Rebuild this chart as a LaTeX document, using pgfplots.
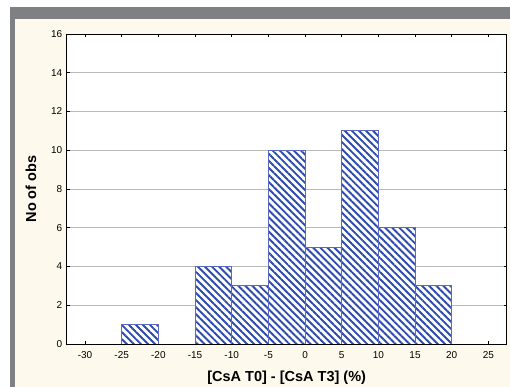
\documentclass[border=0pt]{standalone}
\usepackage{fontspec}
\setmainfont{Liberation Sans}
\usepackage{pgfplots}
\pgfplotsset{compat=1.18}
\usetikzlibrary{patterns.meta}
\definecolor{framegray}{RGB}{127,128,131}
\definecolor{cream}{RGB}{253,249,237}
\definecolor{hatch}{RGB}{45,75,175}
\definecolor{baredge}{RGB}{90,105,195}
\begin{document}
\begin{tikzpicture}[x=1pt,y=1pt]
\path[use as bounding box] (0,0) rectangle (510,387);
\fill[white] (0,0) rectangle (510,387);
\fill[framegray] (10,0) rectangle (510,380);
\fill[cream] (15,0) rectangle (510,368);
\begin{axis}[
 at={(66.7pt,43pt)}, anchor=south west,
 scale only axis, width=440pt, height=310pt,
 xmin=-32.5, xmax=27.5, ymin=0, ymax=16,
 xtick={-30,-25,...,25}, ytick={0,2,...,16},
 tick pos=both, tick align=inside, major tick length=3pt,
 ymajorgrids, grid style={gray!55, line width=0.6pt},
 axis line style={black, line width=0.8pt},
 tick style={black, line width=0.6pt},
 axis background/.style={fill=white},
 ticklabel style={font=\fontsize{10}{11}\selectfont},
 xticklabel style={yshift=-4pt},
 yticklabel style={xshift=-1pt},
 /pgf/number format/assume math mode=true,
 xlabel={[CsA T0] - [CsA T3] (\%)},
 ylabel={No of obs},
 label style={font=\fontsize{14.5}{16}\selectfont\bfseries},
 xlabel style={at={(axis description cs:0.5,-0.11)}, anchor=center},
 ylabel style={at={(axis description cs:-0.081,0.5)}, anchor=center},
]
\addplot[ybar, bar width=5, bar shift=0pt, draw=baredge, line width=0.9pt, fill=white,
 postaction={pattern={Lines[angle=-45,distance=5pt,line width=1.9pt]}, pattern color=hatch}]
 coordinates {(-22.5,1) (-12.5,4) (-7.5,3) (-2.5,10) (2.5,5) (7.5,11) (12.5,6) (17.5,3)};
\end{axis}
\end{tikzpicture}
\end{document}
